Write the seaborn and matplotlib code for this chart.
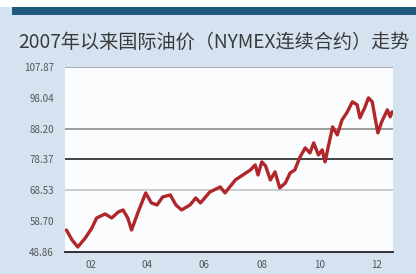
import pandas as pd
import seaborn as sns
import matplotlib.pyplot as plt
from matplotlib.patches import Rectangle

# day of year 2007 and NYMEX crude price
day_of_year = [6, 12, 18, 26, 33, 38, 47, 54, 61, 66, 71, 75, 82, 90, 96, 102,
               108, 116, 122, 128, 137, 143, 148, 158, 169, 174, 185, 201, 206, 209,
               213, 217, 222, 227, 232, 238, 243, 248, 253, 259, 264, 268, 273, 277,
               280, 285, 288, 293, 298, 303, 309, 314, 317, 322, 326, 330, 333, 336,
               340, 346, 349, 351]
price = [55.88, 52.69, 50.46, 53.33, 56.52, 59.72, 60.99, 59.72, 61.63, 62.27, 59.72,
         55.88, 61.63, 67.70, 64.51, 63.87, 66.42, 67.06, 63.87, 62.27, 63.87, 66.10,
         64.51, 68.02, 69.61, 67.70, 71.85, 75.04, 76.64, 73.45, 77.60, 76.32, 71.85,
         74.40, 69.30, 70.89, 74.08, 75.04, 78.87, 82.07, 80.47, 83.66, 79.83, 81.43,
         77.60, 84.62, 88.77, 86.22, 91.01, 93.24, 96.76, 95.80, 91.65, 94.84, 98.03,
         96.76, 91.65, 86.86, 90.37, 94.20, 91.97, 93.56]

month_ticks = [32, 91, 152, 213, 274, 335]
month_labels = ["02", "04", "06", "08", "10", "12"]
marked_ticks = [91, 213, 335]

y_ticks = [48.86, 58.70, 68.53, 78.37, 88.20, 98.04, 107.87]
y_labels = ["48.86", "58.70", "68.53", "78.37", "88.20", "98.04", "107.87"]
grid_levels = [107.87, 88.20, 78.37, 68.53]
grid_colors = ["#9a9a9a", "#8c8c8c", "#222222", "#c4c4c4"]

title = "2007年以来国际油价（NYMEX连续合约）走势"

df = pd.DataFrame({"day": day_of_year, "price": price})

sns.set_style("white")
plt.rcParams["font.family"] = ["Noto Sans CJK SC", "DejaVu Sans"]

fig = plt.figure(figsize=(4.16, 2.74), dpi=100)
fig.patch.set_facecolor("#d5e3f0")

# top band
fig.patches.append(Rectangle((0, 1 - 7 / 274), 1, 7 / 274, transform=fig.transFigure,
                             facecolor="white", edgecolor="none", zorder=0))
fig.patches.append(Rectangle((12 / 416, 1 - 15 / 274), 1, 8 / 274, transform=fig.transFigure,
                             facecolor="#1e587d", edgecolor="none", zorder=0))

fig.text(18 / 416, 1 - 42 / 274, title, fontsize=13.8, color="#3a3a3a", va="center", ha="left")

ax = fig.add_axes([65 / 416, 22 / 274, (393 - 65) / 416, (252 - 67) / 274])
ax.set_facecolor("#fbfcfd")

for lvl, col in zip(grid_levels, grid_colors):
    ax.axhline(lvl, color=col, lw=1.2, zorder=1)

sns.lineplot(data=df, x="day", y="price", ax=ax, color="#b0262a", lw=2.4, zorder=3)

ax.set_xlim(4.5, 352)
ax.set_ylim(48.86, 107.87)
ax.set_xlabel("")
ax.set_ylabel("")

ax.set_yticks(y_ticks)
ax.set_yticklabels(y_labels)
ax.set_xticks(month_ticks)
ax.set_xticklabels(month_labels)
ax.set_xticks(marked_ticks, minor=True)
ax.tick_params(axis="x", which="major", length=0, pad=6, labelsize=7, labelcolor="#555555")
ax.tick_params(axis="x", which="minor", length=4, width=1, direction="in", color="#333333")
ax.tick_params(axis="y", length=0, pad=8, labelsize=7, labelcolor="#555555")

for side in ["top", "left", "right"]:
    ax.spines[side].set_visible(False)
ax.spines["bottom"].set_color("#222222")
ax.spines["bottom"].set_linewidth(1.3)
ax.spines["bottom"].set_zorder(4)

fig.savefig("out.png", dpi=100, facecolor=fig.get_facecolor())
